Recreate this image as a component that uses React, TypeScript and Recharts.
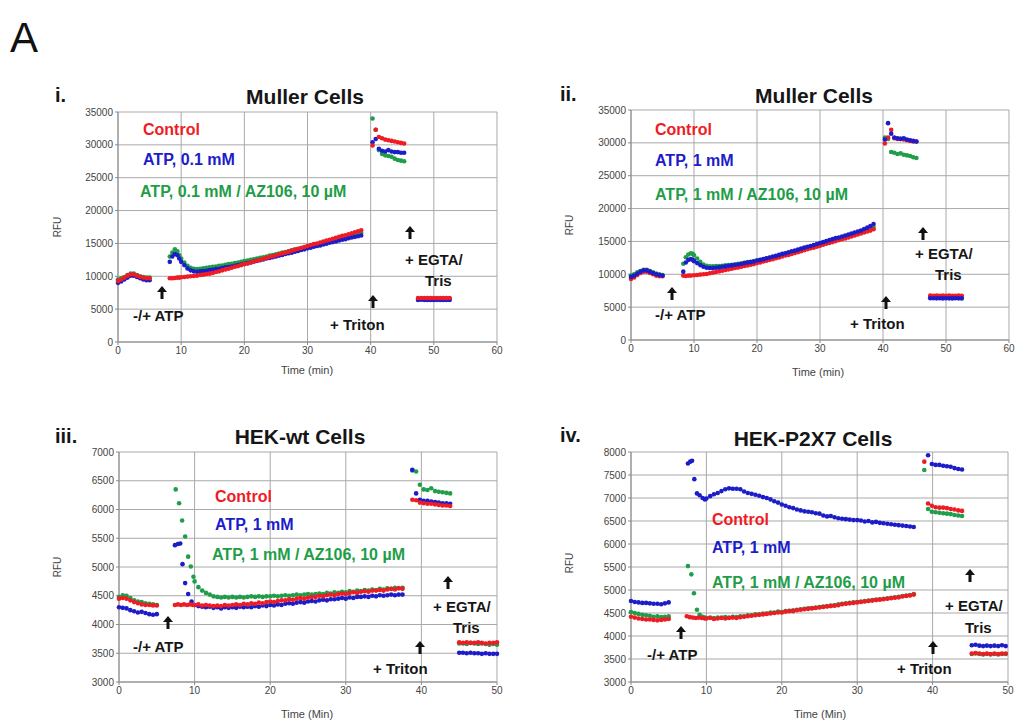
import React from 'react';
import { ScatterChart, Scatter, XAxis, YAxis, CartesianGrid } from 'recharts';

const FONT = 'Arial, "Liberation Sans", Helvetica, sans-serif';
const RED = '#ee1c25';
const BLUE = '#1c1cc9';
const GREEN = '#1f9d48';

// sampling step of the plate reader (min)
const STEP = 0.5;

// tick labels
const X_TICKS_60 = [0, 10, 20, 30, 40, 50, 60];
const X_TICKS_50 = [0, 10, 20, 30, 40, 50];
const Y_TICKS_MULLER = [0, 5000, 10000, 15000, 20000, 25000, 30000, 35000];
const Y_TICKS_WT = [3000, 3500, 4000, 4500, 5000, 5500, 6000, 6500, 7000];
const Y_TICKS_P2X7 = [3000, 3500, 4000, 4500, 5000, 5500, 6000, 6500, 7000, 7500, 8000];

// ---- i. Muller cells, ATP 0.1 mM ----
// baseline, from t = 0
const I_CTRL_BASE = [9300, 9500, 9800, 10100, 10300, 10300, 10100, 9900, 9800, 9700, 9700];
const I_ATP_BASE = [9000, 9200, 9500, 9800, 10100, 10100, 9900, 9700, 9500, 9400, 9400];
const I_AZ_BASE = [9500, 9700, 9900, 10200, 10400, 10400, 10200, 10000, 9900, 9800, 9800];
// first reads after the addition
const I_CTRL_EARLY: [number, number][] = [[8.2, 9700], [8.6, 9700], [9.0, 9750], [9.4, 9800], [9.7, 9800]];
const I_ATP_EARLY: [number, number][] = [[8.2, 12200], [8.6, 13000], [9.0, 13400], [9.4, 13200], [9.7, 12700]];
const I_AZ_EARLY: [number, number][] = [[8.2, 13000], [8.6, 13600], [9.0, 14100], [9.4, 13800], [9.7, 13200]];
// from t = 10
const I_CTRL_RISE = [
  9850, 9900, 9950, 10000, 10050, 10100, 10200, 10250, 10350, 10400,
  10500, 10650, 10750, 10900, 11050, 11150, 11300, 11450, 11550, 11700,
  11850, 11950, 12100, 12250, 12400, 12500, 12650, 12800, 12950, 13050,
  13200, 13350, 13500, 13600, 13750, 13900, 14050, 14200, 14300, 14450,
  14600, 14750, 14900, 15000, 15150, 15300, 15450, 15550, 15700, 15850,
  16000, 16150, 16250, 16400, 16550, 16700, 16850, 17000,
];
const I_ATP_RISE = [
  12200, 11700, 11200, 10900, 10750, 10700, 10750, 10800, 10850, 10950,
  11000, 11100, 11150, 11250, 11350, 11400, 11500, 11600, 11700, 11800,
  11900, 12000, 12100, 12250, 12350, 12450, 12550, 12700, 12800, 12900,
  13000, 13150, 13250, 13400, 13500, 13600, 13750, 13850, 14000, 14100,
  14250, 14350, 14500, 14600, 14700, 14850, 14950, 15100, 15200, 15300,
  15450, 15550, 15650, 15800, 15900, 16000, 16100, 16200,
];
const I_AZ_RISE = [
  12700, 12100, 11600, 11300, 11150, 11100, 11150, 11200, 11300, 11350,
  11450, 11500, 11600, 11650, 11750, 11850, 11900, 12000, 12100, 12200,
  12300, 12400, 12500, 12600, 12700, 12800, 12900, 13000, 13150, 13250,
  13350, 13450, 13600, 13700, 13800, 13950, 14050, 14150, 14300, 14400,
  14550, 14650, 14750, 14900, 15000, 15100, 15250, 15350, 15500, 15600,
  15750, 15850, 15950, 16100, 16200, 16350, 16450, 16600,
];
// + Triton, from t = 40.3
const I_CTRL_TRITON = [29900, 32300, 31200, 31000, 30800, 30700, 30600, 30500, 30400, 30300, 30200];
const I_ATP_TRITON = [30400, 30900, 29400, 29100, 29000, 29200, 29000, 28900, 28900, 28800, 28800];
const I_AZ_TRITON = [34000, 32300, 29200, 28600, 28400, 28300, 28200, 27900, 27700, 27600, 27500];
// + EGTA/Tris, from t = 47.5
const I_CTRL_EGTA = [6700, 6690, 6700, 6680, 6700, 6690, 6680, 6700, 6690, 6680, 6690];
const I_ATP_EGTA = [6400, 6420, 6400, 6390, 6410, 6400, 6380, 6400, 6390, 6380, 6400];
const I_AZ_EGTA = [6550, 6540, 6560, 6550, 6540, 6550, 6560, 6540, 6550, 6540, 6550];

// ---- ii. Muller cells, ATP 1 mM ----
const II_CTRL_BASE = [9300, 9500, 9900, 10200, 10400, 10400, 10200, 10000, 9800, 9700, 9700];
const II_ATP_BASE = [9600, 9800, 10100, 10400, 10600, 10600, 10400, 10200, 10000, 9900, 9800];
const II_AZ_BASE = [9800, 10000, 10300, 10500, 10700, 10700, 10500, 10300, 10100, 10000, 9900];
const II_CTRL_EARLY: [number, number][] = [[8.3, 9800], [8.7, 9750], [9.1, 9800], [9.5, 9800]];
const II_ATP_EARLY: [number, number][] = [[8.3, 10400], [8.7, 11800], [9.1, 12200], [9.5, 12300], [9.8, 12200]];
const II_AZ_EARLY: [number, number][] = [[8.3, 11600], [8.7, 12600], [9.1, 13000], [9.5, 13200], [9.8, 13100]];
const II_CTRL_RISE = [
  9850, 9900, 9950, 10000, 10050, 10150, 10250, 10350, 10450, 10550,
  10650, 10750, 10850, 10950, 11050, 11150, 11250, 11350, 11450, 11550,
  11700, 11800, 11950, 12050, 12200, 12300, 12450, 12550, 12700, 12850,
  12950, 13100, 13250, 13350, 13500, 13650, 13800, 13950, 14050, 14200,
  14350, 14500, 14650, 14750, 14900, 15050, 15200, 15350, 15450, 15600,
  15750, 15900, 16050, 16200, 16350, 16500, 16650, 16850,
];
const II_ATP_RISE = [
  12000, 11700, 11400, 11150, 11000, 10950, 10950, 11000, 11050, 11150,
  11200, 11300, 11350, 11450, 11500, 11600, 11700, 11800, 11850, 11950,
  12100, 12200, 12300, 12450, 12550, 12700, 12800, 12950, 13100, 13200,
  13350, 13500, 13600, 13750, 13900, 14050, 14200, 14300, 14450, 14600,
  14750, 14900, 15050, 15200, 15350, 15500, 15600, 15750, 15900, 16050,
  16200, 16350, 16500, 16650, 16900, 17100, 17350, 17650,
];
const II_AZ_RISE = [
  12900, 12400, 11900, 11500, 11300, 11200, 11200, 11250, 11250, 11300,
  11350, 11400, 11450, 11500, 11600, 11650, 11750, 11850, 11900, 12000,
  12100, 12150, 12250, 12400, 12500, 12600, 12700, 12850, 12950, 13100,
  13200, 13350, 13450, 13600, 13750, 13850, 14000, 14150, 14250, 14400,
  14550, 14700, 14850, 14950, 15100, 15250, 15400, 15550, 15650, 15800,
  15950, 16100, 16250, 16400, 16600, 16750, 16950, 17200,
];
const II_CTRL_TRITON = [29900, 30800, 32000, 30700, 30600, 30600, 30500, 30400, 30300, 30200, 30200];
const II_ATP_TRITON = [30500, 33000, 31400, 30800, 30700, 30600, 30700, 30500, 30400, 30300, 30200];
const II_AZ_TRITON = [30800, 30600, 28600, 28500, 28300, 28400, 28200, 28100, 28000, 27800, 27700];
const II_CTRL_EGTA = [6750, 6740, 6760, 6740, 6750, 6730, 6750, 6740, 6730, 6750, 6740];
const II_ATP_EGTA = [6350, 6360, 6340, 6350, 6330, 6350, 6340, 6330, 6350, 6340, 6330];
const II_AZ_EGTA = [6550, 6540, 6550, 6560, 6540, 6550, 6540, 6550, 6530, 6540, 6550];

// ---- iii. HEK-wt cells, ATP 1 mM ----
const III_CTRL_BASE = [4450, 4460, 4450, 4420, 4390, 4370, 4350, 4340, 4340, 4330, 4330];
const III_ATP_BASE = [4300, 4290, 4280, 4250, 4230, 4210, 4220, 4200, 4180, 4170, 4180];
const III_AZ_BASE = [4480, 4510, 4500, 4460, 4420, 4400, 4390, 4370, 4360, 4350, 4340];
const III_CTRL_EARLY: [number, number][] = [[7.4, 4340], [7.8, 4350], [8.2, 4340], [8.6, 4350], [9.0, 4340], [9.4, 4350], [9.8, 4340]];
const III_ATP_EARLY: [number, number][] = [[7.4, 5380], [7.8, 5400], [8.1, 5410], [8.4, 5050], [8.75, 4720], [9.15, 4530], [9.6, 4400]];
const III_AZ_EARLY: [number, number][] = [[7.5, 6350], [7.95, 6110], [8.35, 5810], [8.75, 5530], [9.15, 5180], [9.5, 5010], [9.85, 4830]];
const III_CTRL_RISE = [
  4340, 4350, 4330, 4340, 4330, 4320, 4330, 4320, 4340, 4330,
  4340, 4350, 4340, 4360, 4350, 4370, 4360, 4380, 4370, 4390,
  4400, 4390, 4410, 4420, 4420, 4440, 4430, 4450, 4460, 4450,
  4470, 4480, 4480, 4500, 4490, 4510, 4520, 4510, 4530, 4540,
  4530, 4550, 4560, 4550, 4570, 4580, 4570, 4590, 4590, 4600,
  4590, 4610, 4620, 4610, 4630, 4620,
];
const III_ATP_RISE = [
  4340, 4320, 4310, 4300, 4310, 4290, 4300, 4280, 4300, 4290,
  4300, 4290, 4310, 4300, 4310, 4300, 4320, 4310, 4330, 4320,
  4340, 4330, 4350, 4340, 4360, 4370, 4360, 4380, 4390, 4380,
  4400, 4410, 4400, 4420, 4430, 4420, 4440, 4440, 4450, 4460,
  4450, 4470, 4460, 4480, 4480, 4490, 4480, 4500, 4490, 4510,
  4500, 4510, 4520, 4510, 4520, 4520,
];
const III_AZ_RISE = [
  4750, 4650, 4590, 4550, 4520, 4490, 4480, 4470, 4480, 4470,
  4480, 4470, 4480, 4470, 4480, 4490, 4480, 4490, 4480, 4490,
  4490, 4500, 4490, 4500, 4510, 4500, 4510, 4520, 4510, 4520,
  4530, 4520, 4530, 4540, 4530, 4550, 4540, 4560, 4550, 4570,
  4560, 4580, 4570, 4590, 4580, 4600, 4590, 4610, 4600, 4620,
  4610, 4630, 4620, 4640, 4630, 4640,
];
const III_CTRL_TRITON = [6170, 6160, 6120, 6110, 6100, 6100, 6090, 6080, 6070, 6070, 6060];
const III_ATP_TRITON = [6690, 6280, 6170, 6150, 6150, 6140, 6130, 6120, 6110, 6110, 6100];
const III_AZ_TRITON = [6680, 6660, 6430, 6350, 6340, 6370, 6320, 6310, 6300, 6290, 6280];
const III_CTRL_EGTA = [3690, 3680, 3690, 3680, 3680, 3690, 3680, 3670, 3680, 3680, 3690];
const III_ATP_EGTA = [3510, 3510, 3500, 3510, 3500, 3500, 3490, 3500, 3490, 3490, 3490];
const III_AZ_EGTA = [3670, 3670, 3660, 3680, 3670, 3660, 3670, 3660, 3650, 3660, 3650];

// ---- iv. HEK-P2X7 cells, ATP 1 mM ----
const IV_CTRL_BASE = [4420, 4400, 4380, 4370, 4360, 4360, 4350, 4340, 4350, 4360, 4370];
const IV_ATP_BASE = [4760, 4740, 4730, 4720, 4720, 4710, 4700, 4700, 4690, 4710, 4730];
const IV_AZ_BASE = [4520, 4500, 4480, 4460, 4450, 4440, 4420, 4430, 4410, 4420, 4430];
const IV_CTRL_EARLY: [number, number][] = [[7.4, 4430], [7.8, 4410], [8.2, 4400], [8.6, 4390], [9.0, 4400], [9.4, 4390], [9.8, 4380]];
const IV_ATP_EARLY: [number, number][] = [[7.55, 7750], [7.85, 7790], [8.1, 7810], [8.4, 7410], [8.75, 7100], [9.1, 7060], [9.5, 7000], [9.8, 6970]];
const IV_AZ_EARLY: [number, number][] = [[7.55, 5520], [8.0, 5340], [8.35, 4930], [8.75, 4570], [9.1, 4460], [9.5, 4420], [9.8, 4400]];
const IV_CTRL_RISE = [
  4380, 4390, 4370, 4380, 4390, 4380, 4390, 4400, 4390, 4410,
  4420, 4430, 4440, 4450, 4460, 4470, 4480, 4490, 4500, 4510,
  4510, 4530, 4540, 4540, 4560, 4570, 4580, 4590, 4600, 4610,
  4620, 4630, 4640, 4650, 4660, 4670, 4690, 4700, 4710, 4720,
  4730, 4740, 4750, 4760, 4770, 4780, 4790, 4800, 4810, 4820,
  4830, 4840, 4860, 4870, 4880, 4900,
];
const IV_ATP_RISE = [
  6990, 7040, 7080, 7110, 7150, 7190, 7210, 7200, 7200, 7190,
  7140, 7110, 7090, 7070, 7050, 7020, 7000, 6970, 6930, 6900,
  6860, 6830, 6800, 6780, 6750, 6730, 6710, 6700, 6690, 6670,
  6660, 6620, 6600, 6610, 6580, 6560, 6550, 6540, 6530, 6520,
  6520, 6510, 6490, 6500, 6470, 6480, 6460, 6450, 6440, 6430,
  6420, 6410, 6400, 6390, 6380, 6370,
];
const IV_AZ_RISE = [
  4390, 4400, 4390, 4400, 4400, 4410, 4400, 4420, 4410, 4430,
  4430, 4450, 4450, 4470, 4470, 4490, 4490, 4510, 4510, 4530,
  4520, 4540, 4550, 4560, 4570, 4580, 4590, 4600, 4610, 4620,
  4630, 4640, 4650, 4660, 4670, 4690, 4700, 4710, 4720, 4730,
  4740, 4750, 4760, 4770, 4780, 4790, 4800, 4810, 4820, 4830,
  4840, 4850, 4870, 4880, 4890, 4910,
];
const IV_CTRL_TRITON = [7790, 6880, 6830, 6800, 6790, 6790, 6780, 6760, 6750, 6730, 6720];
const IV_ATP_TRITON = [7930, 7740, 7720, 7720, 7700, 7690, 7680, 7650, 7630, 7620];
const IV_AZ_TRITON = [7610, 6760, 6700, 6690, 6680, 6670, 6660, 6650, 6630, 6620, 6610];
const IV_CTRL_EGTA = [3620, 3630, 3620, 3610, 3620, 3610, 3620, 3610, 3620, 3620];
const IV_ATP_EGTA = [3800, 3810, 3790, 3780, 3790, 3780, 3790, 3780, 3800, 3780];
const IV_AZ_EGTA = [3610, 3620, 3610, 3600, 3610, 3600, 3610, 3600, 3610, 3610];

type Pt = { x: number; y: number };

const seg = (t0: number, vals: number[]): Pt[] =>
  vals.map((y, i) => ({ x: Math.round((t0 + i * STEP) * 100) / 100, y }));

const pairs = (p: [number, number][]): Pt[] => p.map(([x, y]) => ({ x, y }));

const trace = (
  base: number[], early: [number, number][], rise: number[],
  tritonT0: number, triton: number[], egtaT0: number, egta: number[],
): Pt[] => [...seg(0, base), ...pairs(early), ...seg(10, rise), ...seg(tritonT0, triton), ...seg(egtaT0, egta)];

const dot = (color: string) => (props: any) =>
  props.cx == null ? <g /> : <circle cx={props.cx} cy={props.cy} r={2.3} fill={color} />;

interface Series { color: string; data: Pt[] }

interface PanelProps {
  left: number;
  top: number;
  plotRight: number;
  xMax: number;
  xTicks: number[];
  yTicks: number[];
  series: Series[];
}

const tickStyle = { fontSize: 10, fill: '#444', fontFamily: FONT };

const Panel = ({ left, top, plotRight, xMax, xTicks, yTicks, series }: PanelProps) => (
  <div style={{ position: 'absolute', left, top }}>
    <ScatterChart width={plotRight - left + 12} height={300} margin={{ top: 32, right: 12, bottom: 8, left: 0 }}>
      <CartesianGrid stroke="#a9a9a9" />
      <XAxis type="number" dataKey="x" domain={[0, xMax]} ticks={xTicks} interval={0}
        tick={tickStyle} tickSize={3} stroke="#8a8a8a" height={30} />
      <YAxis type="number" dataKey="y" domain={[yTicks[0], yTicks[yTicks.length - 1]]} ticks={yTicks}
        interval={0} tick={tickStyle} tickSize={3} stroke="#8a8a8a" width={58} />
      {series.map((s, i) => (
        <Scatter key={i} data={s.data} shape={dot(s.color) as any} isAnimationActive={false} />
      ))}
    </ScatterChart>
  </div>
);

interface TxtProps {
  x: number; y: number; children: React.ReactNode;
  size?: number; color?: string; bold?: boolean; center?: boolean; rotate?: boolean;
}

const Txt = ({ x, y, children, size = 15, color = '#161616', bold = true, center = false, rotate = false }: TxtProps) => (
  <div style={{
    position: 'absolute', left: x, top: y, whiteSpace: 'nowrap', lineHeight: 1,
    transform: `translate(${center ? '-50%' : '0'}, -50%)${rotate ? ' rotate(-90deg)' : ''}`,
    fontFamily: FONT, fontSize: size, fontWeight: bold ? 700 : 400, color,
  }}>{children}</div>
);

const Arrow = ({ x, y }: { x: number; y: number }) => (
  <svg width={10} height={13} style={{ position: 'absolute', left: x - 5, top: y - 6.5 }}>
    <polygon points="0,6 5,0 10,6" fill="#111" />
    <rect x={3.5} y={5} width={3} height={8} fill="#111" />
  </svg>
);

const Legend3 = ({ x, y, gap, atp, az }: { x: number; y: number[]; gap?: number; atp: string; az: string }) => (
  <>
    <Txt x={x + (gap ?? 0)} y={y[0]} size={16} color={RED}>Control</Txt>
    <Txt x={x + (gap ?? 0)} y={y[1]} size={16} color={BLUE}>{atp}</Txt>
    <Txt x={x} y={y[2]} size={16} color={GREEN}>{az}</Txt>
  </>
);

const Marks = ({ atp, triton, egta }: { atp: [number, number, number, number]; triton: [number, number, number, number]; egta: [number, number, number, number, number] }) => (
  <>
    <Txt x={atp[0]} y={atp[1]}>-/+ ATP</Txt>
    <Arrow x={atp[2]} y={atp[3]} />
    <Txt x={triton[0]} y={triton[1]}>+ Triton</Txt>
    <Arrow x={triton[2]} y={triton[3]} />
    <Arrow x={egta[0]} y={egta[1]} />
    <Txt x={egta[2]} y={egta[3]}>+ EGTA/</Txt>
    <Txt x={egta[2] + 20} y={egta[4]}>Tris</Txt>
  </>
);

const AxisTitles = ({ rfuX, rfuY, timeX, timeY, time }: { rfuX: number; rfuY: number; timeX: number; timeY: number; time: string }) => (
  <>
    <Txt x={rfuX} y={rfuY} size={10} bold={false} color="#444" center rotate>RFU</Txt>
    <Txt x={timeX} y={timeY} size={11} bold={false} color="#444" center>{time}</Txt>
  </>
);

export default function App() {
  const panelI: Series[] = [
    { color: GREEN, data: trace(I_AZ_BASE, I_AZ_EARLY, I_AZ_RISE, 40.3, I_AZ_TRITON, 47.5, I_AZ_EGTA) },
    { color: BLUE, data: trace(I_ATP_BASE, I_ATP_EARLY, I_ATP_RISE, 40.3, I_ATP_TRITON, 47.5, I_ATP_EGTA) },
    { color: RED, data: trace(I_CTRL_BASE, I_CTRL_EARLY, I_CTRL_RISE, 40.3, I_CTRL_TRITON, 47.5, I_CTRL_EGTA) },
  ];
  const panelII: Series[] = [
    { color: GREEN, data: trace(II_AZ_BASE, II_AZ_EARLY, II_AZ_RISE, 40.3, II_AZ_TRITON, 47.5, II_AZ_EGTA) },
    { color: RED, data: trace(II_CTRL_BASE, II_CTRL_EARLY, II_CTRL_RISE, 40.3, II_CTRL_TRITON, 47.5, II_CTRL_EGTA) },
    { color: BLUE, data: trace(II_ATP_BASE, II_ATP_EARLY, II_ATP_RISE, 40.3, II_ATP_TRITON, 47.5, II_ATP_EGTA) },
  ];
  const panelIII: Series[] = [
    { color: GREEN, data: trace(III_AZ_BASE, III_AZ_EARLY, III_AZ_RISE, 38.8, III_AZ_TRITON, 45, III_AZ_EGTA) },
    { color: BLUE, data: trace(III_ATP_BASE, III_ATP_EARLY, III_ATP_RISE, 38.8, III_ATP_TRITON, 45, III_ATP_EGTA) },
    { color: RED, data: trace(III_CTRL_BASE, III_CTRL_EARLY, III_CTRL_RISE, 38.8, III_CTRL_TRITON, 45, III_CTRL_EGTA) },
  ];
  const panelIV: Series[] = [
    { color: BLUE, data: trace(IV_ATP_BASE, IV_ATP_EARLY, IV_ATP_RISE, 39.4, IV_ATP_TRITON, 45.2, IV_ATP_EGTA) },
    { color: GREEN, data: trace(IV_AZ_BASE, IV_AZ_EARLY, IV_AZ_RISE, 38.9, IV_AZ_TRITON, 45.2, IV_AZ_EGTA) },
    { color: RED, data: trace(IV_CTRL_BASE, IV_CTRL_EARLY, IV_CTRL_RISE, 38.9, IV_CTRL_TRITON, 45.2, IV_CTRL_EGTA) },
  ];

  return (
    <div style={{ position: 'absolute', left: 0, top: 0, width: 1016, height: 722, overflow: 'hidden', background: '#fff' }}>
      <Panel left={60} top={80} plotRight={497} xMax={60} xTicks={X_TICKS_60} yTicks={Y_TICKS_MULLER} series={panelI} />
      <Panel left={573} top={78} plotRight={1009} xMax={60} xTicks={X_TICKS_60} yTicks={Y_TICKS_MULLER} series={panelII} />
      <Panel left={61} top={420} plotRight={497} xMax={50} xTicks={X_TICKS_50} yTicks={Y_TICKS_WT} series={panelIII} />
      <Panel left={573} top={420} plotRight={1008} xMax={50} xTicks={X_TICKS_50} yTicks={Y_TICKS_P2X7} series={panelIV} />

      <Txt x={10} y={38} size={42} bold={false} color="#111">A</Txt>

      {/* i. */}
      <Txt x={55} y={95} size={20}>i.</Txt>
      <Txt x={305} y={96} size={21} center>Muller Cells</Txt>
      <AxisTitles rfuX={58} rfuY={227} timeX={307} timeY={370} time="Time (min)" />
      <Legend3 x={140} gap={3} y={[130, 160, 192]} atp="ATP, 0.1 mM" az="ATP, 0.1 mM / AZ106, 10 µM" />
      <Marks atp={[133, 315, 162, 292]} triton={[330, 324, 373, 301]} egta={[410, 232, 405, 259, 280]} />

      {/* ii. */}
      <Txt x={560} y={94} size={20}>ii.</Txt>
      <Txt x={814} y={95} size={21} center>Muller Cells</Txt>
      <AxisTitles rfuX={570} rfuY={225} timeX={818} timeY={372} time="Time (min)" />
      <Legend3 x={655} y={[130, 161, 195]} atp="ATP, 1 mM" az="ATP, 1 mM / AZ106, 10 µM" />
      <Marks atp={[655, 314, 672, 293]} triton={[850, 323, 886, 302]} egta={[923, 233, 915, 253, 274]} />

      {/* iii. */}
      <Txt x={55} y={436} size={20}>iii.</Txt>
      <Txt x={300} y={436} size={21} center>HEK-wt Cells</Txt>
      <AxisTitles rfuX={58} rfuY={567} timeX={307} timeY={714} time="Time (Min)" />
      <Legend3 x={212} gap={3} y={[497, 525, 555]} atp="ATP, 1 mM" az="ATP, 1 mM / AZ106, 10 µM" />
      <Marks atp={[133, 646, 168, 622]} triton={[373, 668, 420, 647]} egta={[448, 582, 433, 606, 627]} />

      {/* iv. */}
      <Txt x={560} y={435} size={20}>iv.</Txt>
      <Txt x={813} y={438} size={21} center>HEK-P2X7 Cells</Txt>
      <AxisTitles rfuX={570} rfuY={563} timeX={820} timeY={714} time="Time (Min)" />
      <Legend3 x={712} y={[520, 548, 583]} atp="ATP, 1 mM" az="ATP, 1 mM / AZ106, 10 µM" />
      <Marks atp={[647, 654, 681, 632]} triton={[897, 668, 933, 647]} egta={[970, 575, 945, 605, 627]} />
    </div>
  );
}
